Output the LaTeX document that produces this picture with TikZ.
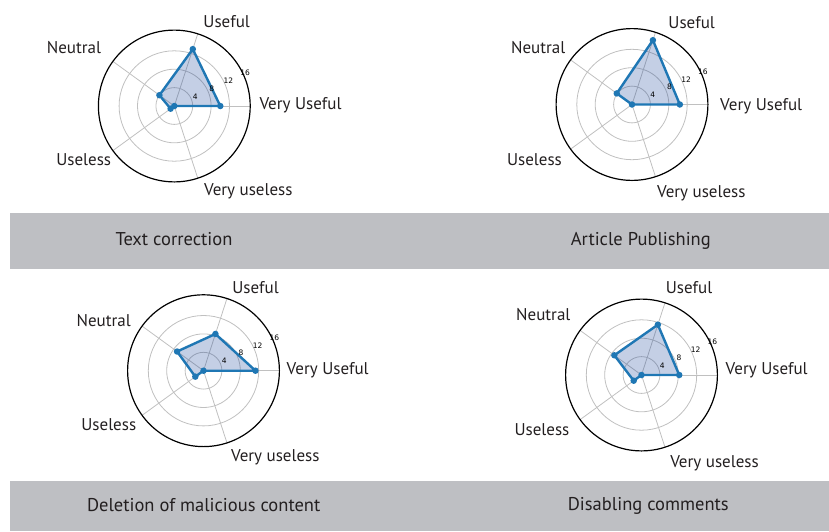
\documentclass[tikz,border=0pt]{standalone}
\usepackage{fontspec}
\setmainfont{PT Sans}
\newfontfamily\tickfont{DejaVu Sans}
\definecolor{lineblue}{RGB}{31,119,180}
\definecolor{fillbase}{RGB}{19,63,151}
\definecolor{gridgray}{RGB}{192,192,192}
\definecolor{bargray}{RGB}{190,191,195}
\definecolor{textgray}{RGB}{35,31,32}
\tikzset{
  ring/.style={draw=gridgray, line width=0.8pt},
  spoke/.style={draw=gridgray, line width=0.8pt},
  rim/.style={draw=black, line width=1.2pt},
  poly/.style={draw=lineblue, fill=fillbase, fill opacity=0.25, draw opacity=1, line width=2.4pt, line join=round},
  dot/.style={circle, fill=lineblue, inner sep=0pt, minimum size=6.5pt},
  axlabel/.style={anchor=base, font=\fontsize{17}{20}\selectfont, text=textgray, inner sep=0pt},
  title/.style={anchor=base, font=\fontsize{18.5}{22}\selectfont, text=textgray, inner sep=0pt},
  tick/.style={font=\tickfont\fontsize{7.5}{8}\selectfont, inner sep=0pt},
  bar/.style={fill=bargray}
}

\begin{document}
\begin{tikzpicture}[x=1pt, y=-1pt]
  \useasboundingbox (0,0) rectangle (829,531);

  \fill[bar] (10,213.3) rectangle (829,269);
  \fill[bar] (10,480.7) rectangle (829,531);

  \begin{scope}[shift={(174.3,106)}, x=4.6pt, y=4.6pt]
    \foreach \r in {4,8,12} \draw[ring] (0,0) circle[radius=\r];
    \foreach \a in {0,72,...,288} \draw[spoke] (0,0) -- (\a:16.5);
    \draw[rim] (0,0) circle[radius=16.5];
    \draw[poly] (0:10) -- (72:13) -- (144:4) -- (216:1) -- (288:0) -- cycle;
    \foreach \a/\v in {0/10,72/13,144/4,216/1,288/0} \node[dot] at (\a:\v) {};
    \foreach \r in {4,8,12,16} \node[tick] at (25:\r+1) {\r};
  \end{scope}

  \begin{scope}[shift={(632,104.5)}, x=4.6pt, y=4.6pt]
    \foreach \r in {4,8,12} \draw[ring] (0,0) circle[radius=\r];
    \foreach \a in {0,72,...,288} \draw[spoke] (0,0) -- (\a:16.5);
    \draw[rim] (0,0) circle[radius=16.5];
    \draw[poly] (0:10.4) -- (72:14.7) -- (144:4.1) -- (216:0) -- (288:0) -- cycle;
    \foreach \a/\v in {0/10.4,72/14.7,144/4.1,216/0} \node[dot] at (\a:\v) {};
    \foreach \r in {4,8,12,16} \node[tick] at (25:\r+1) {\r};
  \end{scope}

  \begin{scope}[shift={(203.5,370.7)}, x=4.6pt, y=4.6pt]
    \foreach \r in {4,8,12} \draw[ring] (0,0) circle[radius=\r];
    \foreach \a in {0,72,...,288} \draw[spoke] (0,0) -- (\a:16.5);
    \draw[rim] (0,0) circle[radius=16.5];
    \draw[poly] (0:11.3) -- (72:8.4) -- (144:7.1) -- (216:2.2) -- (288:0) -- cycle;
    \foreach \a/\v in {0/11.3,72/8.4,144/7.1,216/2.2,288/0} \node[dot] at (\a:\v) {};
    \foreach \r in {4,8,12,16} \node[tick] at (25:\r+1) {\r};
  \end{scope}

  \begin{scope}[shift={(641.5,375)}, x=4.6pt, y=4.6pt]
    \foreach \r in {4,8,12} \draw[ring] (0,0) circle[radius=\r];
    \foreach \a in {0,72,...,288} \draw[spoke] (0,0) -- (\a:16.5);
    \draw[rim] (0,0) circle[radius=16.5];
    \draw[poly] (0:8.2) -- (72:11.5) -- (144:7.3) -- (216:2.1) -- (288:0) -- cycle;
    \foreach \a/\v in {0/8.2,72/11.5,144/7.3,216/2.1,288/0} \node[dot] at (\a:\v) {};
    \foreach \r in {4,8,12,16} \node[tick] at (25:\r+1) {\r};
  \end{scope}

  \node[axlabel] (useA)   at (226.7,27.5) {Useful};
  \node[axlabel] (neuA)   at (74,53.5)    {Neutral};
  \node[axlabel] (vusA)   at (300.5,109.5) {Very Useful};
  \node[axlabel] (uslA)   at (83.7,165)   {Useless};
  \node[axlabel] (vulA)   at (248.3,195.5) {Very useless};
  \node[title]   (titleA) at (174,245)    {Text correction};

  \node[axlabel] (useB)   at (691.7,28.5) {Useful};
  \node[axlabel] (neuB)   at (538.2,53.5) {Neutral};
  \node[axlabel] (vusB)   at (761.2,110)  {Very Useful};
  \node[axlabel] (uslB)   at (534.5,165.5) {Useless};
  \node[axlabel] (vulB)   at (701.3,197)  {Very useless};
  \node[title]   (titleB) at (640.8,245)  {Article Publishing};

  \node[axlabel] (useC)   at (255.5,293.3) {Useful};
  \node[axlabel] (neuC)   at (103.7,326)  {Neutral};
  \node[axlabel] (vusC)   at (327.7,374)  {Very Useful};
  \node[axlabel] (uslC)   at (108.8,430)  {Useless};
  \node[axlabel] (vulC)   at (275.3,461.7) {Very useless};
  \node[title]   (titleC) at (203.7,511)  {Deletion of malicious content};

  \node[axlabel] (useD)   at (689,293.3)  {Useful};
  \node[axlabel] (neuD)   at (543.3,320)  {Neutral};
  \node[axlabel] (vusD)   at (766.7,374)  {Very Useful};
  \node[axlabel] (uslD)   at (542,435.7)  {Useless};
  \node[axlabel] (vulD)   at (714.5,467.3) {Very useless};
  \node[title]   (titleD) at (648.3,510.7) {Disabling comments};
\end{tikzpicture}
\end{document}
